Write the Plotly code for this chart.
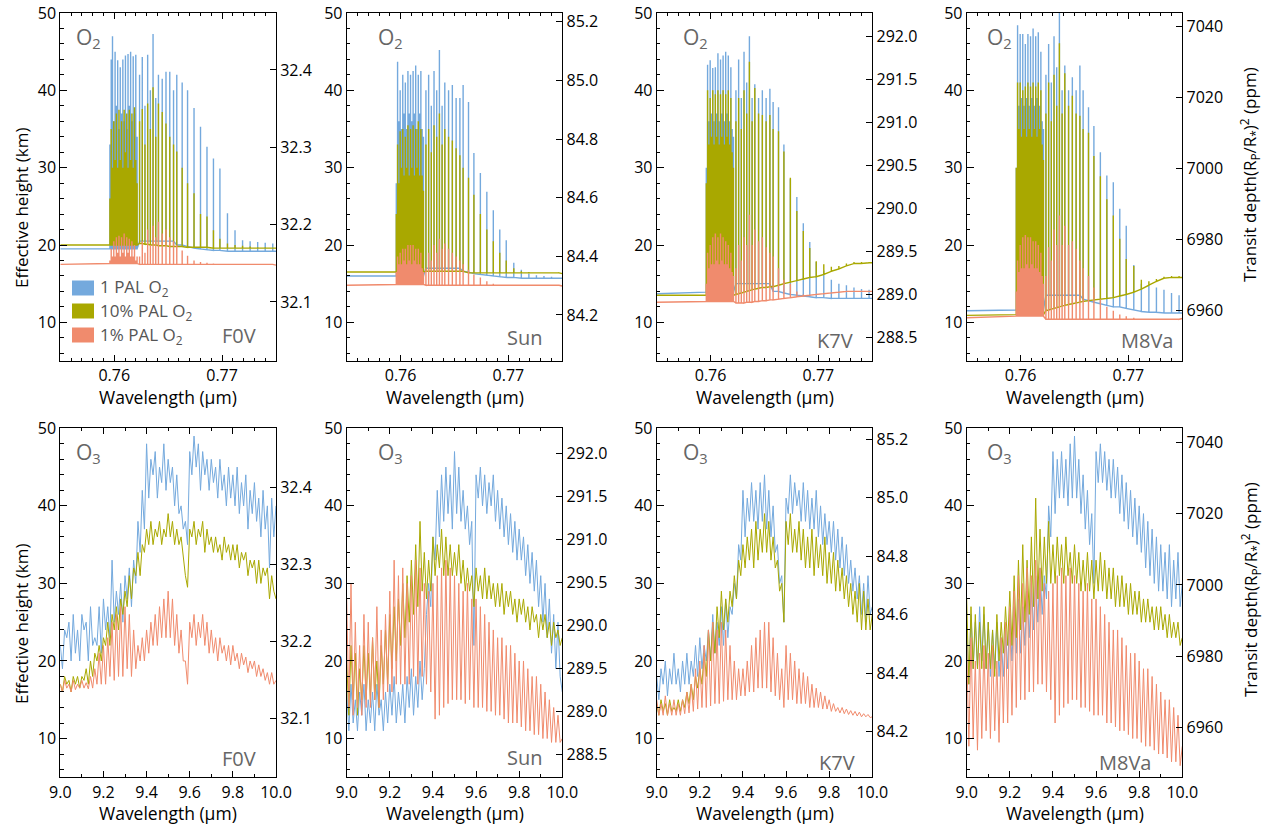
import numpy as np
import plotly.graph_objects as go

W, H = 1267, 827

STARS = ["F0V", "Sun", "K7V", "M8Va"]
SERIES_NAMES = ["1 PAL O<sub>2</sub>", "10% PAL O<sub>2</sub>", "1% PAL O<sub>2</sub>"]
COLORS = ["#74A9DD", "#A9A800", "#F08B6D"]

# ---------------- O2 A-band (top row) ----------------
O2_RANGE = [0.755, 0.775]
O2_LINE_WL = [0.75960, 0.75972, 0.75984, 0.75996, 0.76008, 0.76020, 0.76032, 0.76044, 0.76056, 0.76068, 0.76080,
              0.76092, 0.76104, 0.76116, 0.76128, 0.76140, 0.76152, 0.76164, 0.76176, 0.76188, 0.76200, 0.76212,
              0.76235, 0.76260, 0.76285, 0.76310, 0.76335, 0.76360, 0.76385, 0.76410, 0.76445, 0.76480, 0.76515,
              0.76550, 0.76580, 0.76630, 0.76680, 0.76740, 0.76800, 0.76860, 0.76920, 0.76980, 0.77050, 0.77120,
              0.77190, 0.77260, 0.77330, 0.77400, 0.77470]

# F0V
O2_F0V_1PAL_PEAK = [33, 44, 47, 36, 45, 38, 43.9, 35, 43, 37, 44, 36, 44.5, 35, 44.7, 38, 45, 36, 44.4, 37, 44.6, 34,
                    42, 44.3, 38, 44.6, 40, 47.3, 39, 42, 41.5, 42.4, 42.4, 40, 42, 41, 40, 37.7, 35.3, 32.7, 31.2, 29.9,
                    24.1, 21.9, 20.6, 20.5, 20.4, 20.3, 20.2]
O2_F0V_1PAL_FLOOR = [19.5] * 22 + [20.5] * 12 + [20, 20, 19.8, 19.6, 19.5, 19.4, 19.3, 19.3, 19.2, 19.2, 19.2, 19.2,
                                                 19.2, 19.2, 19.2]
O2_F0V_1PAL_EDGE = [19.5, 19.2]
O2_F0V_10PAL_PEAK = [26, 35, 30, 36, 31, 37, 30, 37.5, 31, 36, 30, 37.5, 32, 37, 30, 37.5, 31, 37, 30, 37.8, 31, 28,
                     36, 37.6, 33, 38.3, 35, 40.4, 34, 38.3, 37.2, 35.7, 34, 33, 32.1, 30, 28, 26.7, 24, 23.7, 21.9, 20.8,
                     20.2, 20, 19.9, 19.8, 19.7, 19.7, 19.6]
O2_F0V_10PAL_FLOOR = [20.0] * 22 + [20.2, 20.2, 20.1, 20.1, 20, 20, 20, 19.9, 19.9, 19.9, 19.8, 19.8, 19.8, 19.8, 19.7,
                                    19.7, 19.7, 19.7, 19.6, 19.6, 19.6, 19.6, 19.6, 19.6, 19.6, 19.6, 19.6]
O2_F0V_10PAL_EDGE = [20.0, 19.6]
O2_F0V_1PCT_PEAK = [18, 19.5, 18.5, 20.5, 18.5, 21, 19, 21.2, 18.5, 21, 19, 21.5, 18.5, 21, 19, 20.8, 18.5, 20.5, 18.5, 20, 18, 18.5,
                    18.5, 20.5, 19, 22, 20, 22.5, 21, 23, 21.5, 22, 21, 20.5, 20, 19.3, 18.6, 18, 17.8, 17.7, 17.6, 17.5,
                    17.5, 17.5, 17.5, 17.5, 17.5, 17.5, 17.5]
O2_F0V_1PCT_FLOOR = [17.6] * 22 + [17.5] * 27
O2_F0V_1PCT_EDGE = [17.5, 17.4]

# Sun
O2_SUN_1PAL_PEAK = [28, 43.7, 36, 40, 35, 42, 37, 41, 35, 42.5, 37, 42, 36, 42.5, 37, 43.2, 35, 42, 37, 42.5, 35, 34,
                    40, 42, 38, 42.5, 40, 45.2, 38, 41, 40, 40.7, 39, 39, 40.7, 38.5, 31.9, 29.3, 26.9, 24.5, 22, 20.6,
                    17.7, 16.8, 16.3, 16.1, 16, 15.9, 15.8]
O2_SUN_1PAL_FLOOR = [16.0] * 22 + [17] * 12 + [16.6, 16.5, 16.3, 16.2, 16.1, 16, 15.9, 15.8, 15.8, 15.7, 15.7, 15.7,
                                               15.7, 15.7, 15.7]
O2_SUN_1PAL_EDGE = [16.0, 15.7]
O2_SUN_10PAL_PEAK = [24, 33, 28, 34.7, 30, 35, 29, 34, 30, 35.5, 29, 35, 30, 35.5, 29, 35, 30, 36, 29, 35, 29, 27,
                     33, 35, 32, 35.5, 34, 37, 33, 35, 34, 33.5, 32.5, 31.6, 30, 28.7, 26.5, 24, 22, 20.5, 19, 18,
                     17, 16.6, 16.5, 16.4, 16.4, 16.3, 16.3]
O2_SUN_10PAL_FLOOR = [16.5] * 22 + [16.6] * 13 + [16.4] * 14
O2_SUN_10PAL_EDGE = [16.5, 16.3]
O2_SUN_1PCT_PEAK = [16.5, 18.5, 17.5, 19, 17.5, 19.5, 18, 19.5, 17.5, 20, 18, 20, 17.5, 20, 18, 19.5, 17.5, 19.5, 17.5, 19, 17, 16.5,
                    17, 19, 18, 20, 19, 20.8, 19.5, 20.2, 19.5, 19, 18.5, 18, 17.5, 16.8, 16.2, 15.8, 15.3, 15, 14.9, 14.8,
                    14.8, 14.8, 14.8, 14.8, 14.8, 14.8, 14.8]
O2_SUN_1PCT_FLOOR = [14.9] * 22 + [14.8] * 27
O2_SUN_1PCT_EDGE = [14.8, 14.7]

# K7V
O2_K7V_1PAL_PEAK = [30, 43.3, 36, 43.9, 37, 42.9, 36, 43, 37, 44.8, 36, 44, 37, 44.5, 36, 45, 37, 44.5, 36, 43, 35, 34,
                    40, 44, 39, 45, 41, 47, 39, 40.8, 39, 40, 39, 40.2, 38.5, 37.8, 33, 28.5, 26.2, 22.8, 20.4, 17.8,
                    16.7, 15.5, 15, 14.8, 14.5, 14.3, 14.2]
O2_K7V_1PAL_FLOOR = [13.9] * 22 + [15] * 12 + [14, 14, 13.8, 13.6, 13.5, 13.4, 13.3, 13.2, 13.2, 13.1, 13.1, 13.1,
                                               13.1, 13.1, 13.1]
O2_K7V_1PAL_EDGE = [13.7, 13.1]
O2_K7V_10PAL_PEAK = [28, 40, 33, 39, 34, 40, 33, 39.5, 34, 40, 33, 39.5, 34, 40, 33, 39.5, 34, 40, 33, 39, 32, 30,
                     36, 39, 35, 40, 37, 43.7, 36, 40.3, 37, 36.8, 36, 36.8, 35, 34.7, 32.1, 28.7, 24.4, 21.8, 19.6, 17.9,
                     17.5, 17.2, 17.3, 17.6, 17.8, 17.8, 17.8]
O2_K7V_10PAL_FLOOR = [13.5] * 22 + [13.6, 13.7, 13.8, 13.9, 14.0, 14.1, 14.2, 14.3, 14.4, 14.5, 14.5, 14.6, 14.6, 14.8,
                                    15.0, 15.2, 15.4, 15.6, 15.8, 15.9, 16.2, 16.6, 16.9, 17.3, 17.6, 17.6, 17.7]
O2_K7V_10PAL_EDGE = [13.5, 17.7]
O2_K7V_1PCT_PEAK = [15, 19, 17, 20, 17.5, 21, 17.5, 21.5, 18, 21, 17.5, 21.5, 18, 21, 17.5, 20.5, 17.5, 20, 17, 19, 16.5, 16,
                    17, 20, 18, 21, 20, 23.9, 20, 22, 20.5, 21, 19.7, 19, 18.5, 17, 15.5, 15, 14, 13.6, 13.6, 13.7,
                    13.8, 13.9, 14, 14.1, 14.1, 14.1, 14.1]
O2_K7V_1PCT_FLOOR = [12.7] * 22 + [12.5, 12.5, 12.5, 12.5, 12.6, 12.6, 12.6, 12.7, 12.7, 12.8, 12.8, 12.9, 12.9, 13.0,
                                   13.1, 13.2, 13.3, 13.4, 13.5, 13.6, 13.7, 13.8, 13.9, 14.0, 14.0, 14.0, 14.0]
O2_K7V_1PCT_EDGE = [12.6, 14.0]

# M8Va
O2_M8V_1PAL_PEAK = [30, 48.4, 38, 47.3, 39, 47.3, 38, 46, 39, 47.3, 38, 47, 39, 48, 38, 47, 39, 47.5, 38, 45, 36, 35,
                    42, 46, 41, 47, 43, 50.5, 40, 43.2, 40, 41.7, 40, 43.2, 40, 37.8, 35.4, 32, 29, 28.1, 24.7, 22.5,
                    17.4, 15, 14.8, 14.5, 14.2, 13.8, 13.5]
O2_M8V_1PAL_FLOOR = [11.6] * 22 + [13.5] * 12 + [13, 12.8, 12.6, 12.4, 12.2, 12, 12, 11.8, 11.6, 11.4, 11.3, 11.3,
                                                 11.2, 11.2, 11.2]
O2_M8V_1PAL_EDGE = [11.5, 11.2]
O2_M8V_10PAL_PEAK = [30, 41, 35, 41, 34, 40, 35, 40.5, 34, 41, 35, 40.5, 34, 41, 35, 40.5, 34, 41, 35, 40, 33, 31,
                     37, 41, 36, 42, 38, 46.1, 37, 42.2, 38, 39.3, 37, 36.7, 35, 34.5, 31.5, 28.9, 25.9, 23.8, 20.8, 18.2,
                     17.3, 15.5, 15.3, 15.6, 15.9, 16, 16]
O2_M8V_10PAL_FLOOR = [11.0] * 22 + [11.5, 11.6, 11.7, 11.8, 11.9, 12.0, 12.1, 12.2, 12.3, 12.4, 12.5, 12.6, 12.7, 12.8,
                                    12.9, 13.0, 13.1, 13.2, 13.4, 13.6, 13.9, 14.3, 14.8, 15.3, 15.7, 15.8, 15.8]
O2_M8V_10PAL_EDGE = [10.9, 15.8]
O2_M8V_1PCT_PEAK = [14, 18, 16.5, 20, 17, 21, 17, 21.3, 17.5, 21, 17, 21, 17.5, 20.5, 17, 20.5, 17, 20, 16.5, 19, 16, 15,
                    16, 19.7, 18, 22, 20, 23.8, 20, 22.5, 20, 20.5, 19.5, 18, 17, 16, 14.5, 13, 12, 11.5, 11, 10.8,
                    10.6, 10.5, 10.5, 10.5, 10.5, 10.5, 10.5]
O2_M8V_1PCT_FLOOR = [10.8] * 22 + [10.4] * 27
O2_M8V_1PCT_EDGE = [10.6, 10.5]

# ---------------- O3 9.6 um band (bottom row) ----------------
O3_RANGE = [9.0, 10.0]
O3_WL = np.round(np.linspace(9.0, 10.0, 101), 3)

O3_F0V_1PAL = [22, 19, 24, 23, 25, 20, 26, 21, 24, 20, 26, 24, 25, 20, 27, 22, 23, 22, 27, 21,
               28, 24, 27, 23, 33, 25, 29, 26, 30, 25, 31, 28, 32, 27, 33, 30, 38, 34, 42, 37,
               48, 41, 46, 44, 47, 41, 45, 43, 48, 42, 46, 43, 45, 40, 44, 39, 40, 37, 38, 35,
               47, 44, 49, 45, 48, 42, 47, 44, 46, 42, 46, 43, 45, 41, 46, 42, 44, 40, 45, 41,
               44, 40, 45, 39, 43, 40, 44, 37, 42, 39, 43, 38, 41, 36, 42, 37, 40, 32, 41, 36, 40]
O3_F0V_10PAL = [17, 16, 18, 17, 17.5, 16, 18, 17, 18, 16.5, 18, 17.5, 19, 17, 20, 18, 21, 20, 22, 20,
                23, 22, 25, 22, 26, 24, 27, 24, 28, 26, 29, 27, 31, 28, 32, 31, 34, 31, 35, 34,
                37, 35, 38, 35, 37, 36, 38, 35, 37, 36, 39, 36, 38, 35, 37, 35, 36, 33, 31, 29.5,
                37, 36, 38, 35, 37, 36, 38, 34, 37, 35, 36, 34, 36, 34, 35, 33, 36, 34, 35, 33,
                35, 33, 35, 32, 34, 33, 34, 31, 33, 32, 33, 30, 33, 30, 32, 31, 32, 28, 31, 29, 28]
O3_F0V_1PCT = [17, 16, 17.5, 16.5, 17, 16, 17.5, 16.3, 17, 16.5, 17.5, 16.5, 17.2, 16.4, 18, 16.5, 19, 17, 21, 17,
               22, 17, 23, 18, 25, 17.5, 26, 18, 27, 18, 27, 19, 26, 18, 24, 19, 22, 20, 23, 20,
               24, 21, 25, 22, 26, 22, 27, 23, 28, 23, 29, 23, 28, 22, 26, 21, 24, 20, 20, 17,
               25, 23, 26, 22, 25, 23, 26, 22, 25, 21, 24, 21, 23, 20, 23, 21, 22, 20, 22, 19.5,
               22, 20, 21, 19, 21, 19.5, 20.5, 18.5, 20, 19, 20, 18, 19.5, 18, 19, 17.5, 18.5, 17, 18.5, 17, 17.5]

O3_SUN_1PAL = [16, 11, 17, 12, 15, 11, 16, 13, 17, 11, 15, 12, 16, 11, 17, 13, 15, 11, 16, 12,
               17, 13, 18, 12, 16, 13, 17, 12, 18, 14, 19, 13, 18, 14, 20, 15, 19, 26, 30, 27,
               36, 33, 42, 36, 44, 38, 45, 39, 44, 37, 47, 39, 45, 38, 42, 37, 40, 35, 38, 22,
               44, 41, 45, 40, 44, 39, 43, 40, 44, 38, 42, 37, 41, 36, 40, 35, 39, 34, 38, 33,
               37, 33, 36, 31, 35, 30, 34, 29, 33, 27, 31, 25, 30, 23, 28, 21, 26, 19, 25, 18, 16]
O3_SUN_10PAL = [20, 13, 22, 15, 21, 13, 19, 15, 22, 15, 21, 15, 23, 15, 20, 14, 22, 17, 24, 17,
                26, 19, 27, 20, 28, 22, 30, 23, 31, 25, 33, 26, 35, 27, 38, 29, 34, 28, 33, 29,
                36, 31, 35, 32, 37, 31, 36, 31, 35, 31, 34, 31, 35, 30, 33, 29, 32, 29, 31, 27,
                32, 29, 31, 28, 32, 28, 31, 28, 30, 27, 30, 27, 30, 26, 29, 27, 29, 26, 28, 25,
                28, 26, 28, 25, 27, 24, 27, 25, 26, 23, 26, 24, 26, 23, 25, 22, 25, 23, 24, 22, 23]
O3_SUN_1PCT = [28, 14, 30, 13, 25, 14, 22, 13, 26, 14, 25, 14, 23, 15, 27, 14, 24, 15, 26, 16,
               29, 16, 33, 17, 31, 17, 32, 17, 30, 17, 31, 18, 33, 17, 32, 18, 30, 17, 29, 16,
               30, 12.5, 31, 13, 32, 14, 33, 14.5, 32, 15, 31, 15, 30, 15, 29, 14.5, 30, 15, 28, 14,
               28, 14, 27, 14, 26, 13.5, 25, 13.5, 24, 13, 23, 13, 23, 12.5, 22, 12, 22, 12, 21, 12,
               20, 11.5, 20, 11, 19, 11, 18, 10.5, 18, 10.5, 17, 10, 16, 10, 15, 9.5, 14, 9.5, 13, 9.5, 10]

O3_K7V_1PAL = [18, 15, 19, 17, 20, 15.5, 19, 17, 21, 17, 19, 16, 20, 17, 21, 17, 20, 18, 22, 18,
               23, 19, 22, 20, 24, 20, 26, 21, 25, 22, 27, 22, 28, 23, 27, 26, 30, 28, 35, 33,
               42, 36, 41, 38, 43, 38, 42, 37, 43, 38, 44, 37, 42, 36, 40, 34, 35, 30, 31, 25,
               41, 39, 44, 39, 43, 40, 42, 38, 43, 38, 42, 37, 41, 37, 42, 36, 40, 35, 39, 35,
               38, 34, 38, 33, 37, 32, 36, 31, 35, 30, 33, 29, 32, 28, 31, 26, 30, 25, 31, 26, 27]
O3_K7V_10PAL = [14.5, 13, 15, 13.5, 14.5, 13, 15, 13.5, 14, 13.5, 15, 13.5, 15, 14, 16, 14.5, 17, 15, 18, 16.5,
                19, 17, 21, 18, 24, 20, 25, 21, 27, 23, 29, 24, 28, 25, 29, 27, 31, 28, 33, 31,
                35, 32, 36, 33, 37, 32, 38, 33, 37, 34, 39, 34, 38, 33, 36, 32, 33, 29, 30, 25,
                38, 35, 39, 34, 37, 34, 38, 33, 37, 32, 36, 32, 37, 31, 36, 32, 35, 31, 36, 30,
                34, 30, 34, 29, 33, 29, 32, 28, 31, 27, 30, 26, 29, 25, 30, 24, 29, 24, 28, 24, 26]
O3_K7V_1PCT = [15, 13, 14.5, 13, 15.5, 13, 14.5, 13, 15, 13, 14.5, 13, 15, 13.2, 16, 13.3, 17, 13.5, 19, 13.8,
               20, 14, 22, 14, 24, 14.2, 25, 14.5, 24, 14.5, 25, 14.8, 24, 15, 22, 15, 20, 15, 19, 15.5,
               19, 15.5, 20, 16, 22, 16, 23, 16.5, 24, 16.5, 25, 16.5, 25, 16, 23, 15.5, 21, 15, 19, 14,
               22, 15, 21, 15, 20, 14.5, 19, 14.5, 18.5, 14.5, 18, 14, 17, 14, 16.5, 14, 16, 13.8, 15.5, 13.8,
               15, 13.5, 14.5, 13.5, 14, 13.3, 14, 13.2, 13.8, 13.1, 13.6, 13, 13.5, 12.9, 13.4, 12.8, 13.2, 12.8,
               13.1, 12.7, 12.8]

O3_M8V_1PAL = [24, 17, 26, 19, 25, 19, 27, 20, 26, 19, 25, 18, 24, 19, 25, 18, 23, 18, 24, 19,
               26, 20, 27, 21, 28, 21, 27, 22, 29, 23, 30, 24, 31, 25, 32, 26, 31, 28, 40, 36,
               47, 39, 46, 41, 47, 41, 46, 40, 48, 41, 49, 41, 46, 39, 44, 37, 42, 35, 39, 30,
               47, 43, 48, 43, 47, 42, 46, 41, 46, 41, 45, 39, 44, 38, 43, 37, 42, 36, 41, 35,
               40, 34, 39, 32, 38, 31, 37, 30, 36, 29, 35, 29, 34, 28, 35, 27, 33, 28, 34, 27, 30]
O3_M8V_10PAL = [28, 17, 27, 19, 26, 19, 25, 19, 27, 19, 25, 19, 24, 18, 26, 20, 25, 21, 27, 22,
                29, 22, 31, 23, 33, 24, 35, 25, 33, 26, 36, 27, 41, 28, 37, 29, 36, 30, 38, 30,
                35, 30, 36, 31, 35, 30, 36, 31, 34, 30, 35, 30, 34, 29, 33, 29, 34, 29, 33, 28,
                33, 29, 34, 29, 33, 28, 32, 28, 32, 27, 31, 27, 31, 27, 30, 26, 30, 26, 29, 26,
                29, 25, 28, 25, 28, 25, 27, 24, 27, 24, 27, 24, 26, 23, 26, 23, 25, 23, 25, 22, 23]
O3_M8V_1PCT = [22, 9, 23, 10, 20, 8.5, 21, 10, 22, 11, 21, 10, 22, 11, 20, 9.5, 23, 12, 25, 12,
               27, 13, 29, 14, 31, 15, 30, 15, 32, 16, 31, 16, 33, 17, 32, 17, 30, 16, 29, 15,
               30, 12, 31, 13, 32, 14, 31, 14.5, 32, 15, 31, 15, 30, 14, 29, 14, 30, 13.5, 28, 13,
               28, 13, 27, 13, 26, 12, 25, 12, 24, 11.5, 24, 11, 23, 11, 22, 10.5, 21, 10, 21, 10,
               20, 9.5, 19, 9, 19, 9, 18, 8.5, 17, 8, 16, 8, 15, 7.5, 15, 7, 14, 7, 13, 6.5, 9]

# ---------------- right-axis (transit depth) settings per panel ----------------
TOP_RIGHT_RANGES = [[32.0237, 32.4737], [84.043, 85.23], [288.224, 292.276], [6945.6, 7043.9]]
TOP_RIGHT_TICKS = [[32.1, 32.2, 32.3, 32.4], [84.2, 84.4, 84.6, 84.8, 85.0, 85.2],
                   [288.5, 289.0, 289.5, 290.0, 290.5, 291.0, 291.5, 292.0], [6960, 6980, 7000, 7020, 7040]]
TOP_RIGHT_FMT = [".1f", ".1f", ".1f", "d"]
BOT_RIGHT_RANGES = [[32.023, 32.4766], [288.233, 292.29], [84.044, 85.2376], [6946.1, 7043.9]]
BOT_RIGHT_TICKS = [[32.1, 32.2, 32.3, 32.4], [288.5, 289.0, 289.5, 290.0, 290.5, 291.0, 291.5, 292.0],
                   [84.2, 84.4, 84.6, 84.8, 85.0, 85.2], [6960, 6980, 7000, 7020, 7040]]
BOT_RIGHT_FMT = [".1f", ".1f", ".1f", "d"]

O2_SETS = {
    "F0V": [(O2_F0V_1PAL_PEAK, O2_F0V_1PAL_FLOOR, O2_F0V_1PAL_EDGE),
            (O2_F0V_10PAL_PEAK, O2_F0V_10PAL_FLOOR, O2_F0V_10PAL_EDGE),
            (O2_F0V_1PCT_PEAK, O2_F0V_1PCT_FLOOR, O2_F0V_1PCT_EDGE)],
    "Sun": [(O2_SUN_1PAL_PEAK, O2_SUN_1PAL_FLOOR, O2_SUN_1PAL_EDGE),
            (O2_SUN_10PAL_PEAK, O2_SUN_10PAL_FLOOR, O2_SUN_10PAL_EDGE),
            (O2_SUN_1PCT_PEAK, O2_SUN_1PCT_FLOOR, O2_SUN_1PCT_EDGE)],
    "K7V": [(O2_K7V_1PAL_PEAK, O2_K7V_1PAL_FLOOR, O2_K7V_1PAL_EDGE),
            (O2_K7V_10PAL_PEAK, O2_K7V_10PAL_FLOOR, O2_K7V_10PAL_EDGE),
            (O2_K7V_1PCT_PEAK, O2_K7V_1PCT_FLOOR, O2_K7V_1PCT_EDGE)],
    "M8Va": [(O2_M8V_1PAL_PEAK, O2_M8V_1PAL_FLOOR, O2_M8V_1PAL_EDGE),
             (O2_M8V_10PAL_PEAK, O2_M8V_10PAL_FLOOR, O2_M8V_10PAL_EDGE),
             (O2_M8V_1PCT_PEAK, O2_M8V_1PCT_FLOOR, O2_M8V_1PCT_EDGE)],
}
O3_SETS = {
    "F0V": [O3_F0V_1PAL, O3_F0V_10PAL, O3_F0V_1PCT],
    "Sun": [O3_SUN_1PAL, O3_SUN_10PAL, O3_SUN_1PCT],
    "K7V": [O3_K7V_1PAL, O3_K7V_10PAL, O3_K7V_1PCT],
    "M8Va": [O3_M8V_1PAL, O3_M8V_10PAL, O3_M8V_1PCT],
}

# ---------------- layout geometry (pixels) ----------------
COL_LEFT = [60.3, 346.7, 656.7, 966.7]
COL_RIGHT = [276.0, 562.3, 872.3, 1182.3]
ROW_TOP = [13.0, 428.3]
ROW_BOT = [361.0, 777.3]
MOL_OFFSET = [14, 29, 24, 18]
STAR_RIGHT = [[258, 545, 855, 1175], [258, 545, 857, 1153]]
STAR_YC = [[336, 337, 340, 341], [758, 757, 762, 762]]

FONT = "Open Sans"
TICKFONT = dict(family=FONT, size=16, color="black")
GRAY = "#666666"


def px(x):
    return x / W


def py(y):
    return 1 - y / H


def o2_xy(peaks, floors, edges):
    xs = [O2_RANGE[0]]
    ys = [edges[0]]
    for wl, p, f in zip(O2_LINE_WL, peaks, floors):
        xs += [wl, wl, wl]
        ys += [f, p, f]
    xs.append(O2_RANGE[1])
    ys.append(edges[1])
    return xs, ys


fig = go.Figure()
layout = dict(width=W, height=H, margin=dict(l=0, r=0, t=0, b=0, pad=0), autosize=False,
              plot_bgcolor="white", paper_bgcolor="white", showlegend=False,
              font=dict(family=FONT, color="black"))
annotations = []
shapes = []

for r in range(2):
    for c in range(4):
        i = r * 4 + c
        xname = "x" if i == 0 else f"x{i + 1}"
        xkey = "xaxis" if i == 0 else f"xaxis{i + 1}"
        yl = 2 * i + 1
        yr = 2 * i + 2
        ylname = "y" if yl == 1 else f"y{yl}"
        ylkey = "yaxis" if yl == 1 else f"yaxis{yl}"
        yrname = f"y{yr}"
        yrkey = f"yaxis{yr}"
        star = STARS[c]

        if r == 0:
            for k, (pk, fl, ed) in enumerate(O2_SETS[star]):
                xs, ys = o2_xy(pk, fl, ed)
                fig.add_trace(go.Scatter(x=xs, y=ys, mode="lines", name=SERIES_NAMES[k],
                                         line=dict(color=COLORS[k], width=1.4),
                                         xaxis=xname, yaxis=ylname, hoverinfo="skip"))
            xax = dict(range=O2_RANGE, tick0=0.76, dtick=0.01, tickformat=".2f",
                       minor=dict(tick0=0.755, dtick=0.001, ticks="inside", ticklen=3, tickcolor="black"))
        else:
            for k, vals in enumerate(O3_SETS[star]):
                fig.add_trace(go.Scatter(x=O3_WL, y=vals, mode="lines", name=SERIES_NAMES[k],
                                         line=dict(color=COLORS[k], width=1.0),
                                         xaxis=xname, yaxis=ylname, hoverinfo="skip"))
            xax = dict(range=O3_RANGE, tick0=9.0, dtick=0.2, tickformat=".1f",
                       minor=dict(tick0=9.0, dtick=0.1, ticks="inside", ticklen=3, tickcolor="black"))
        # empty trace so that the transit-depth axis is drawn
        fig.add_trace(go.Scatter(x=[None], y=[None], mode="lines", showlegend=False, hoverinfo="skip",
                                 xaxis=xname, yaxis=yrname))

        xdom = [px(COL_LEFT[c]), px(COL_RIGHT[c])]
        ydom = [py(ROW_BOT[r]), py(ROW_TOP[r])]
        xax.update(domain=xdom, anchor=ylname, showline=True, linecolor="black", linewidth=1,
                   mirror="ticks", ticks="inside", ticklen=6, tickcolor="black",
                   showgrid=False, zeroline=False, tickfont=TICKFONT, automargin=False)
        layout[xkey] = xax
        layout[ylkey] = dict(domain=ydom, anchor=xname, range=[5, 50], tick0=10, dtick=10,
                             showline=True, linecolor="black", linewidth=1, mirror=False,
                             ticks="inside", ticklen=7, tickcolor="black",
                             minor=dict(tick0=0, dtick=2, ticks="inside", ticklen=3.5, tickcolor="black"),
                             showgrid=False, zeroline=False, tickfont=TICKFONT, automargin=False)
        rr = TOP_RIGHT_RANGES[c] if r == 0 else BOT_RIGHT_RANGES[c]
        rt = TOP_RIGHT_TICKS[c] if r == 0 else BOT_RIGHT_TICKS[c]
        rf = TOP_RIGHT_FMT[c] if r == 0 else BOT_RIGHT_FMT[c]
        layout[yrkey] = dict(overlaying=ylname, side="right", anchor=xname, range=rr,
                             tickmode="array", tickvals=rt, tickformat=rf,
                             showline=True, linecolor="black", linewidth=1,
                             ticks="inside", ticklen=6, tickcolor="black",
                             showgrid=False, zeroline=False, tickfont=TICKFONT, automargin=False)

        # x axis title
        annotations.append(dict(text="Wavelength (μm)", x=px((COL_LEFT[c] + COL_RIGHT[c]) / 2),
                                y=py(397 if r == 0 else 813), xref="paper", yref="paper",
                                xanchor="center", yanchor="middle", showarrow=False,
                                font=dict(family=FONT, size=17.5, color="black")))
        # molecule label
        mol = "O<sub>2</sub>" if r == 0 else "O<sub>3</sub>"
        annotations.append(dict(text=mol, x=px(COL_LEFT[c] + MOL_OFFSET[c]), y=py(ROW_TOP[r] + 8),
                                xref="paper", yref="paper", xanchor="left", yanchor="top",
                                showarrow=False, font=dict(family=FONT, size=21, color=GRAY)))
        # star label
        annotations.append(dict(text=star, x=px(STAR_RIGHT[r][c]), y=py(STAR_YC[r][c]),
                                xref="paper", yref="paper", xanchor="right", yanchor="middle",
                                showarrow=False, font=dict(family=FONT, size=20, color=GRAY)))

# y titles
for r, (yc_left, yc_right) in enumerate([(208, 175), (624, 590)]):
    annotations.append(dict(text="Effective height (km)", x=px(21), y=py(yc_left), xref="paper", yref="paper",
                            xanchor="center", yanchor="middle", textangle=-90, showarrow=False,
                            font=dict(family=FONT, size=17, color="black")))
    annotations.append(dict(text="Transit depth(R<sub>P</sub>/R<sub>*</sub>)<sup>2</sup> (ppm)",
                            x=px(1250), y=py(yc_right), xref="paper", yref="paper",
                            xanchor="center", yanchor="middle", textangle=-90, showarrow=False,
                            font=dict(family=FONT, size=17, color="black")))

# legend (top-left panel)
LEG_Y = [288, 311, 335]
for k in range(3):
    shapes.append(dict(type="rect", xref="paper", yref="paper", x0=px(72), x1=px(94),
                       y0=py(LEG_Y[k] + 7.5), y1=py(LEG_Y[k] - 7.5),
                       fillcolor=COLORS[k], line=dict(width=0)))
    annotations.append(dict(text=SERIES_NAMES[k], x=px(98), y=py(LEG_Y[k]), xref="paper", yref="paper",
                            xanchor="left", yanchor="middle", showarrow=False,
                            font=dict(family=FONT, size=17, color="#555555")))

layout["annotations"] = annotations
layout["shapes"] = shapes
fig.update_layout(**layout)
fig.write_html("out.html", config={"displayModeBar": False},
               post_script="document.body.style.margin='0px';document.body.style.overflow='hidden';")
